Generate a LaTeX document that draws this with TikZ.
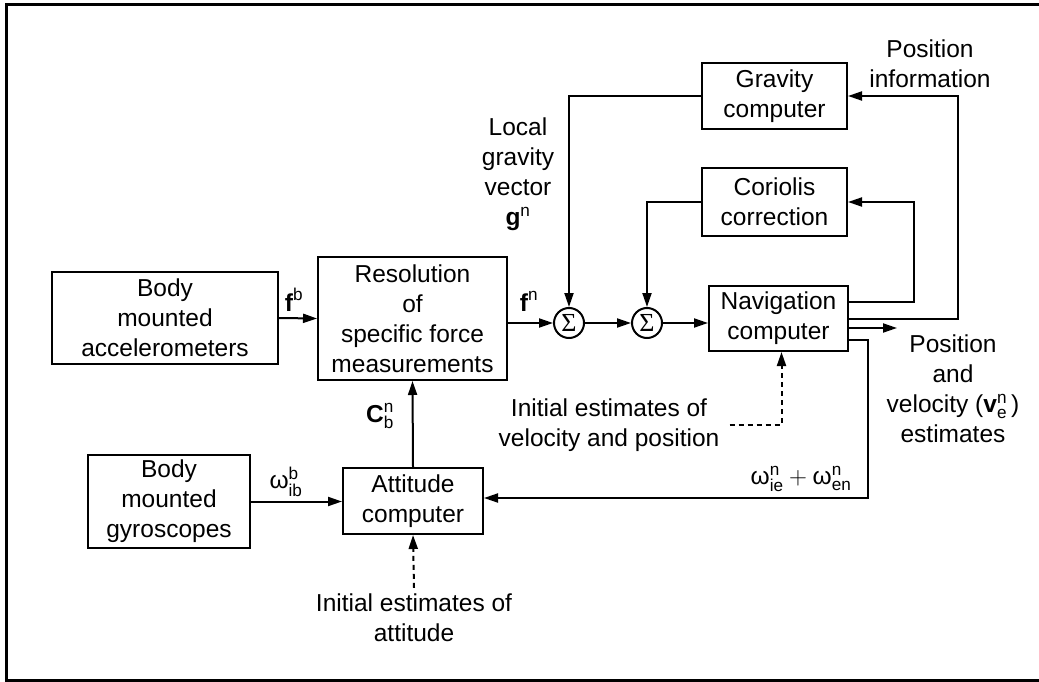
\documentclass[tikz,border=0pt]{standalone}
\usepackage{amsmath}
\usepackage{fontspec}
\setmainfont{Liberation Sans}
\newfontfamily\sigfont{Liberation Serif}
\usetikzlibrary{arrows.meta,calc}
\tikzset{
  blk/.style={draw, line width=2pt, align=center, inner sep=0pt, font=\fontsize{24.5}{30}\selectfont},
  lbl/.style={align=center, inner sep=0pt, font=\fontsize{24.5}{30}\selectfont},
  arr/.style={line width=2pt, -{Triangle[length=14pt,width=9pt]}},
  dsh/.style={arr, dash pattern=on 5pt off 4pt},
  sum/.style={circle, draw, line width=2pt, minimum size=30pt, inner sep=0pt, font=\sigfont\fontsize{26}{26}\selectfont}
}
\begin{document}
\begin{tikzpicture}[x=1pt,y=-1pt]
\useasboundingbox (0,0) rectangle (1039,682);
\draw[line width=3pt] (1039,4.5) -- (6.5,4.5) -- (6.5,680.5) -- (1039,680.5);

\node[blk, minimum width=226pt, minimum height=92pt] (acc) at (165,318) {Body\\mounted\\accelerometers};
\node[blk, minimum width=189pt, minimum height=123pt] (res) at (412.5,318.5) {Resolution\\of\\specific force\\measurements};
\node[blk, minimum width=145pt, minimum height=66pt] (grav) at (774.5,96) {Gravity\\computer};
\node[blk, minimum width=145pt, minimum height=68pt] (cor) at (774.5,202) {Coriolis\\correction};
\node[blk, minimum width=139pt, minimum height=65pt] (nav) at (778.5,318.5) {Navigation\\computer};
\node[blk, minimum width=162pt, minimum height=93pt] (gyro) at (169,501.5) {Body\\mounted\\gyroscopes};
\node[blk, minimum width=140pt, minimum height=66pt] (att) at (413,501) {Attitude\\computer};
\node[sum] (s1) at (569,323) {Σ};
\node[sum] (s2) at (647,323) {Σ};

\node[lbl] (fb) at (294,300) {$\textbf{f}^{\text{b}}$};
\node[lbl] (fn) at (529,301) {$\textbf{f}^{\text{n}}$};
\node[lbl] (lg) at (518,174) {Local\\gravity\\vector\\$\textbf{g}^{\text{n}}$};
\node[lbl] (cbn) at (380,416) {$\textbf{C}^{\text{n}}_{\text{b}}$};
\node[lbl] (wib) at (286,482) {$\text{ω}^{\text{b}}_{\text{ib}}$};
\node[lbl] (wsum) at (801,479) {$\text{ω}^{\text{n}}_{\text{ie}}+\text{ω}^{\text{n}}_{\text{en}}$};
\node[lbl] (pinfo) at (930,64) {Position\\information};
\node[lbl] (pve) at (953,389) {Position\\and\\velocity ($\textbf{v}^{\text{n}}_{\text{e}}$\,)\\estimates};
\node[lbl] (ivp) at (609,425) {Initial estimates of\\velocity and position};
\node[lbl] (iatt) at (414,618) {Initial estimates of\\attitude};

\coordinate (out) at (897,328);

\draw[arr] (acc.east) -- (res.west);
\draw[arr] (s1 -| res.east) -- (s1.west);
\draw[arr] (s1) -- (s2);
\draw[arr] (s2) -- (s2 -| nav.west);
\draw[arr] (grav.west) -| (s1.north);
\draw[arr] (cor.west) -| (s2.north);
\draw[arr] ([yshift=16.5pt]nav.east) -- ++(65,0) |- (cor.east);
\draw[arr] (nav.east) -- ++(109,0) |- (grav.east);
\draw[arr] (out -| nav.east) -- (out);
\draw[arr] ([yshift=-21.5pt]nav.east) -- ++(19,0) |- ([yshift=3pt]att.east);
\draw[arr] (att.north) -- (res.south);
\draw[arr] (gyro.east) -- (gyro.east -| att.west);
\draw[dsh] ([yshift=6pt]iatt.north) -- (att.south);
\draw[dsh] ([xshift=10pt]ivp.east) -- ([xshift=3pt]nav.south |- ivp.east) -- ([xshift=3pt]nav.south);
\end{tikzpicture}
\end{document}
